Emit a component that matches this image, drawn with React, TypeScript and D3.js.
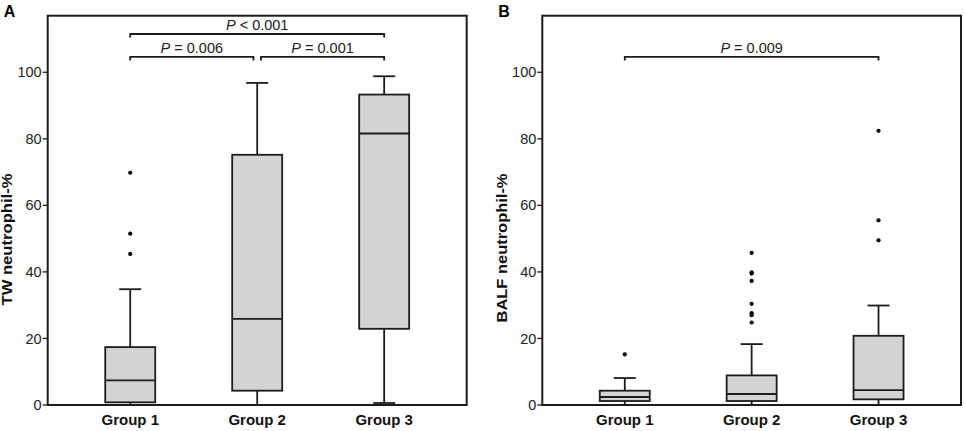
import * as d3 from 'd3'
import React from 'react'

// categories and values
const groups = ['Group 1', 'Group 2', 'Group 3']

const twMin = [0, 0, 0.6]
const twQ1 = [0.8, 4.3, 22.9]
const twMedian = [7.4, 25.9, 81.6]
const twQ3 = [17.4, 75.2, 93.3]
const twMax = [34.8, 96.8, 98.8]
const twOutliers = [[69.8, 51.5, 45.4], [], []]

const balfMin = [0, 0, 0]
const balfQ1 = [1.2, 1.2, 1.7]
const balfMedian = [2.4, 3.3, 4.5]
const balfQ3 = [4.3, 8.9, 20.8]
const balfMax = [8.1, 18.3, 29.9]
const balfOutliers = [
  [15.2],
  [45.7, 39.9, 39.5, 37.3, 30.4, 27.6, 27.0, 24.8],
  [82.4, 55.5, 49.5],
]

const yTicks = [0, 20, 40, 60, 80, 100]

interface Bracket {
  from: string
  to: string
  level: number
  op: string
  p: string
}

const twBrackets: Bracket[] = [
  { from: 'Group 1', to: 'Group 3', level: 111.5, op: '<', p: '0.001' },
  { from: 'Group 1', to: 'Group 2', level: 104.6, op: '=', p: '0.006' },
  { from: 'Group 2', to: 'Group 3', level: 104.6, op: '=', p: '0.001' },
]
const balfBrackets: Bracket[] = [{ from: 'Group 1', to: 'Group 3', level: 104.6, op: '=', p: '0.009' }]

const FONT = 'Arial, "Liberation Sans", Helvetica, sans-serif'
const INK = '#1c1c1c'
const FILL = '#d3d3d3'

interface PanelProps {
  letter: string
  yLabel: string
  labelY: number
  labelLength: number
  left: number
  right: number
  min: number[]
  q1: number[]
  median: number[]
  q3: number[]
  max: number[]
  outliers: number[][]
  brackets: Bracket[]
}

const top = 15.7
const bottom = 405

const Panel: React.FC<PanelProps> = ({
  letter,
  yLabel,
  labelY,
  labelLength,
  left,
  right,
  min,
  q1,
  median,
  q3,
  max,
  outliers,
  brackets,
}) => {
  const x = d3.scalePoint<string>().domain(groups).range([left, right]).padding(0.65)
  const y = d3.scaleLinear().domain([0, 117]).range([bottom, top])
  const boxW = 50
  const capW = 22

  return (
    <g>
      <text x={left - 44} y={16.5} fontSize={16} fontWeight="bold" fill="#000">
        {letter}
      </text>

      {/* boxes */}
      {groups.map((g, i) => {
        const cx = x(g) as number
        return (
          <g key={g} stroke={INK} strokeWidth={1.8}>
            <line x1={cx} x2={cx} y1={y(q3[i])} y2={y(max[i])} />
            <line x1={cx} x2={cx} y1={y(q1[i])} y2={y(min[i])} />
            <line x1={cx - capW / 2} x2={cx + capW / 2} y1={y(max[i])} y2={y(max[i])} />
            <line x1={cx - capW / 2} x2={cx + capW / 2} y1={y(min[i])} y2={y(min[i])} />
            <rect
              x={cx - boxW / 2}
              y={y(q3[i])}
              width={boxW}
              height={y(q1[i]) - y(q3[i])}
              fill={FILL}
            />
            <line x1={cx - boxW / 2} x2={cx + boxW / 2} y1={y(median[i])} y2={y(median[i])} />
            {outliers[i].map((v, j) => (
              <circle key={j} cx={cx} cy={y(v)} r={2.1} fill="#000" stroke="none" />
            ))}
          </g>
        )
      })}

      {/* frame */}
      <rect
        x={left}
        y={top}
        width={right - left}
        height={bottom - top}
        fill="none"
        stroke={INK}
        strokeWidth={2}
      />

      {/* y axis */}
      {yTicks.map(t => (
        <g key={t}>
          <line x1={left - 5} x2={left} y1={y(t)} y2={y(t)} stroke={INK} strokeWidth={1.3} />
          <text
            x={left - 6}
            y={y(t)}
            dy="0.35em"
            textAnchor="end"
            fontSize={14.5}
            fill="#222"
          >
            {t}
          </text>
        </g>
      ))}
      <text
        transform={`translate(${left - 35.5},${labelY}) rotate(-90)`}
        textAnchor="middle"
        fontSize={14}
        fontWeight="bold"
        fill="#111"
        textLength={labelLength}
        lengthAdjust="spacingAndGlyphs"
      >
        {yLabel}
      </text>

      {/* x labels */}
      {groups.map(g => (
        <text key={g} x={x(g)} y={425} textAnchor="middle" fontSize={15} fontWeight="bold" fill="#111">
          {g}
        </text>
      ))}

      {/* significance brackets */}
      {brackets.map((b, i) => {
        let x1 = x(b.from) as number
        let x2 = x(b.to) as number
        const shared = brackets.filter((o, k) => k !== i && o.level === b.level)
        if (shared.some(o => o.from === b.to)) x2 -= 3.8
        if (shared.some(o => o.to === b.from)) x1 += 3.8
        const by = y(b.level)
        return (
          <g key={i}>
            <path
              d={`M${x1},${by + 3.5}V${by}H${x2}V${by + 3.5}`}
              fill="none"
              stroke={INK}
              strokeWidth={1.8}
            />
            <text x={(x1 + x2) / 2} y={by - 4} textAnchor="middle" fontSize={14.5} fill="#222">
              <tspan fontStyle="italic">P</tspan>
              {` ${b.op} ${b.p}`}
            </text>
          </g>
        )
      })}
    </g>
  )
}

export default function App() {
  return (
    <svg
      width={965}
      height={431}
      style={{ position: 'absolute', left: 0, top: 0, background: '#fff', fontFamily: FONT }}
    >
      <Panel
        letter="A"
        yLabel="TW neutrophil-%"
        labelY={239.5}
        labelLength={132}
        left={47.7}
        right={466.7}
        min={twMin}
        q1={twQ1}
        median={twMedian}
        q3={twQ3}
        max={twMax}
        outliers={twOutliers}
        brackets={twBrackets}
      />
      <Panel
        letter="B"
        yLabel="BALF neutrophil-%"
        labelY={248}
        labelLength={149}
        left={542.3}
        right={961}
        min={balfMin}
        q1={balfQ1}
        median={balfMedian}
        q3={balfQ3}
        max={balfMax}
        outliers={balfOutliers}
        brackets={balfBrackets}
      />
    </svg>
  )
}
